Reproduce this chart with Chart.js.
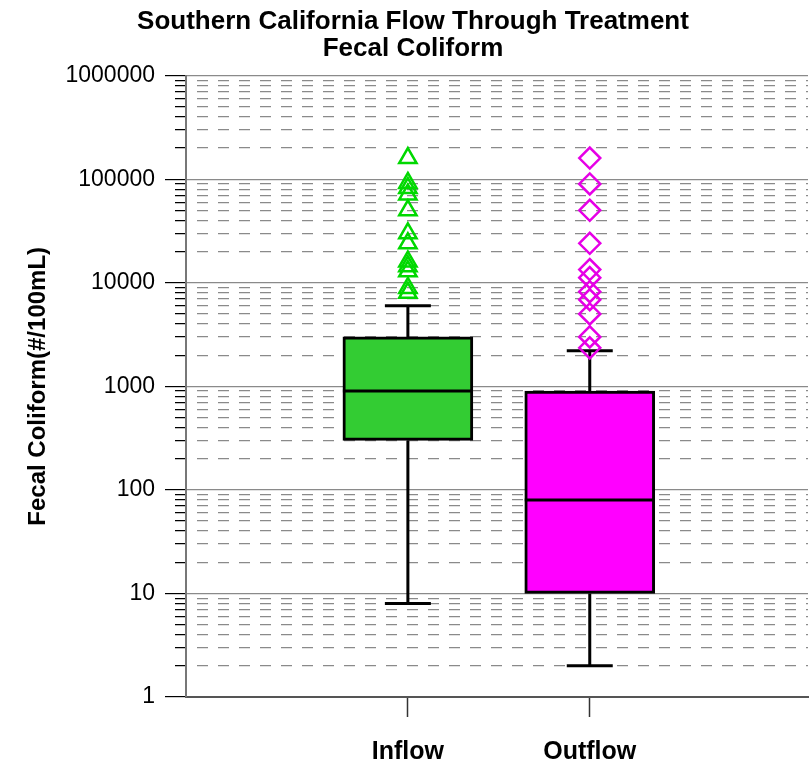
<!DOCTYPE html>
<html>
<head>
<meta charset="utf-8">
<title>Fecal Coliform</title>
<script src="https://cdn.jsdelivr.net/npm/chart.js@4.4.1/dist/chart.umd.min.js"></script>
<style>
  html, body { margin: 0; padding: 0; background: #fff; }
  #wrap { width: 812px; height: 766px; }
</style>
</head>
<body>
<div id="wrap"><canvas id="fcChart"></canvas></div>
<script>
// box plot summary values (#/100mL)
const categories = ["Inflow", "Outflow"];
const whiskerLow = [8, 2];
const quartile1 = [300, 10];
const medians = [900, 80];
const quartile3 = [3000, 900];
const whiskerHigh = [6000, 2200];

// outliers above the upper whisker
const inflowOutliers = [160000, 92000, 82000, 71000, 50000, 30000, 24000, 16000, 14400, 12900, 8900, 8000];
const outflowOutliers = [160000, 90000, 50000, 24000, 13400, 11200, 8200, 6850, 5000, 3000, 2350];

// y axis: labelled decades and the dashed minor lines between them
const decadeTicks = [1, 10, 100, 1000, 10000, 100000, 1000000];
const minorSteps = [2, 3, 4, 5, 6, 7, 8, 9];

Chart.defaults.font.family = "'Liberation Sans', Arial, sans-serif";
Chart.defaults.color = "#000";

const isDecade = v => decadeTicks.includes(v);

// whiskers, caps and median lines, drawn right after the boxes
const boxWhiskers = {
    id: "boxWhiskers",
    afterDatasetDraw(chart, args) {
        if (args.index !== 0) return;
        const ctx = chart.ctx;
        const xs = chart.scales.x;
        const ys = chart.scales.y;
        const bars = chart.getDatasetMeta(0).data;
        const capHalf = 23;
        ctx.save();
        ctx.strokeStyle = "#000";
        ctx.lineWidth = 3;
        categories.forEach((c, i) => {
            const cx = xs.getPixelForValue(i + 1);
            const yLow = ys.getPixelForValue(whiskerLow[i]);
            const yHigh = ys.getPixelForValue(whiskerHigh[i]);
            const yMed = ys.getPixelForValue(medians[i]);
            const half = bars[i].width / 2;
            ctx.beginPath();
            // upper whisker + cap
            ctx.moveTo(cx, ys.getPixelForValue(quartile3[i]));
            ctx.lineTo(cx, yHigh);
            ctx.moveTo(cx - capHalf, yHigh);
            ctx.lineTo(cx + capHalf, yHigh);
            // lower whisker + cap
            ctx.moveTo(cx, ys.getPixelForValue(quartile1[i]));
            ctx.lineTo(cx, yLow);
            ctx.moveTo(cx - capHalf, yLow);
            ctx.lineTo(cx + capHalf, yLow);
            // median
            ctx.moveTo(cx - half, yMed);
            ctx.lineTo(cx + half, yMed);
            ctx.stroke();
        });
        ctx.restore();
    }
};

const ctx = document.getElementById("fcChart").getContext("2d");
new Chart(ctx, {
    type: "bar",
    data: {
        datasets: [
            {
                label: "Box",
                order: 2,
                data: categories.map((c, i) => ({ x: i + 1, y: [quartile1[i], quartile3[i]] })),
                backgroundColor: ["#33CC33", "#FF00FF"],
                borderColor: "#000",
                borderWidth: 3,
                borderSkipped: false,
                barThickness: 130
            },
            {
                type: "scatter",
                label: "Inflow outliers",
                order: 1,
                data: inflowOutliers.map(v => ({ x: 1, y: v })),
                pointStyle: "triangle",
                pointRadius: 10,
                pointBorderWidth: 2.5,
                pointBorderColor: "#00D800",
                pointBackgroundColor: "rgba(0,0,0,0)"
            },
            {
                type: "scatter",
                label: "Outflow outliers",
                order: 1,
                data: outflowOutliers.map(v => ({ x: 2, y: v })),
                pointStyle: "rectRot",
                pointRadius: 10.5,
                pointBorderWidth: 2.5,
                pointBorderColor: "#E600E6",
                pointBackgroundColor: "rgba(0,0,0,0)"
            }
        ]
    },
    options: {
        responsive: true,
        maintainAspectRatio: false,
        animation: false,
        layout: { autoPadding: false, padding: { left: 18, right: 4, top: 0, bottom: 0 } },
        plugins: {
            legend: { display: false },
            tooltip: { enabled: false },
            title: {
                display: true,
                text: ["Southern California Flow Through Treatment", "Fecal Coliform"],
                font: { size: 26, weight: "bold", lineHeight: 1.05 },
                color: "#000",
                padding: { top: 8, bottom: 13 }
            }
        },
        scales: {
            x: {
                type: "linear",
                min: -0.22,
                max: 3.2,
                offset: false,
                afterBuildTicks: axis => {
                    axis.ticks = categories.map((c, i) => ({ value: i + 1 }));
                },
                afterFit: axis => { axis.height = 69; },
                ticks: {
                    callback: (value, index) => categories[index],
                    font: { size: 25, weight: "bold" },
                    padding: 20,
                    maxRotation: 0
                },
                grid: {
                    offset: false,
                    drawOnChartArea: false,
                    tickLength: 20,
                    tickColor: "#333",
                    tickWidth: 1.5
                },
                border: { color: "#555", width: 2 }
            },
            y: {
                type: "logarithmic",
                min: 1,
                max: 1000000,
                afterFit: axis => { axis.width = 168; },
                afterBuildTicks: axis => {
                    const list = [];
                    decadeTicks.forEach(d => {
                        list.push({ value: d, major: true });
                        if (d < 1000000) minorSteps.forEach(m => list.push({ value: d * m }));
                    });
                    axis.ticks = list;
                },
                title: {
                    display: true,
                    text: "Fecal Coliform(#/100mL)",
                    font: { size: 24, weight: "bold" },
                    color: "#000",
                    padding: { top: 6, bottom: 0 }
                },
                ticks: {
                    autoSkip: false,
                    callback: value => (isDecade(value) ? String(value) : ""),
                    font: { size: 23 },
                    padding: 10
                },
                grid: {
                    color: "#8a8a8a",
                    lineWidth: 1.2,
                    tickLength: 21,
                    tickColor: "#000",
                    tickWidth: 1.2,
                    // minor ticks only show their inner half
                    tickBorderDash: c => (c.tick && isDecade(c.tick.value) ? [] : [0, 10, 11, 0])
                },
                border: {
                    color: "#777",
                    width: 2,
                    dash: c => (c.tick && !isDecade(c.tick.value) ? [11, 10] : []),
                    dashOffset: 11
                }
            }
        }
    },
    plugins: [boxWhiskers]
});
</script>
</body>
</html>
